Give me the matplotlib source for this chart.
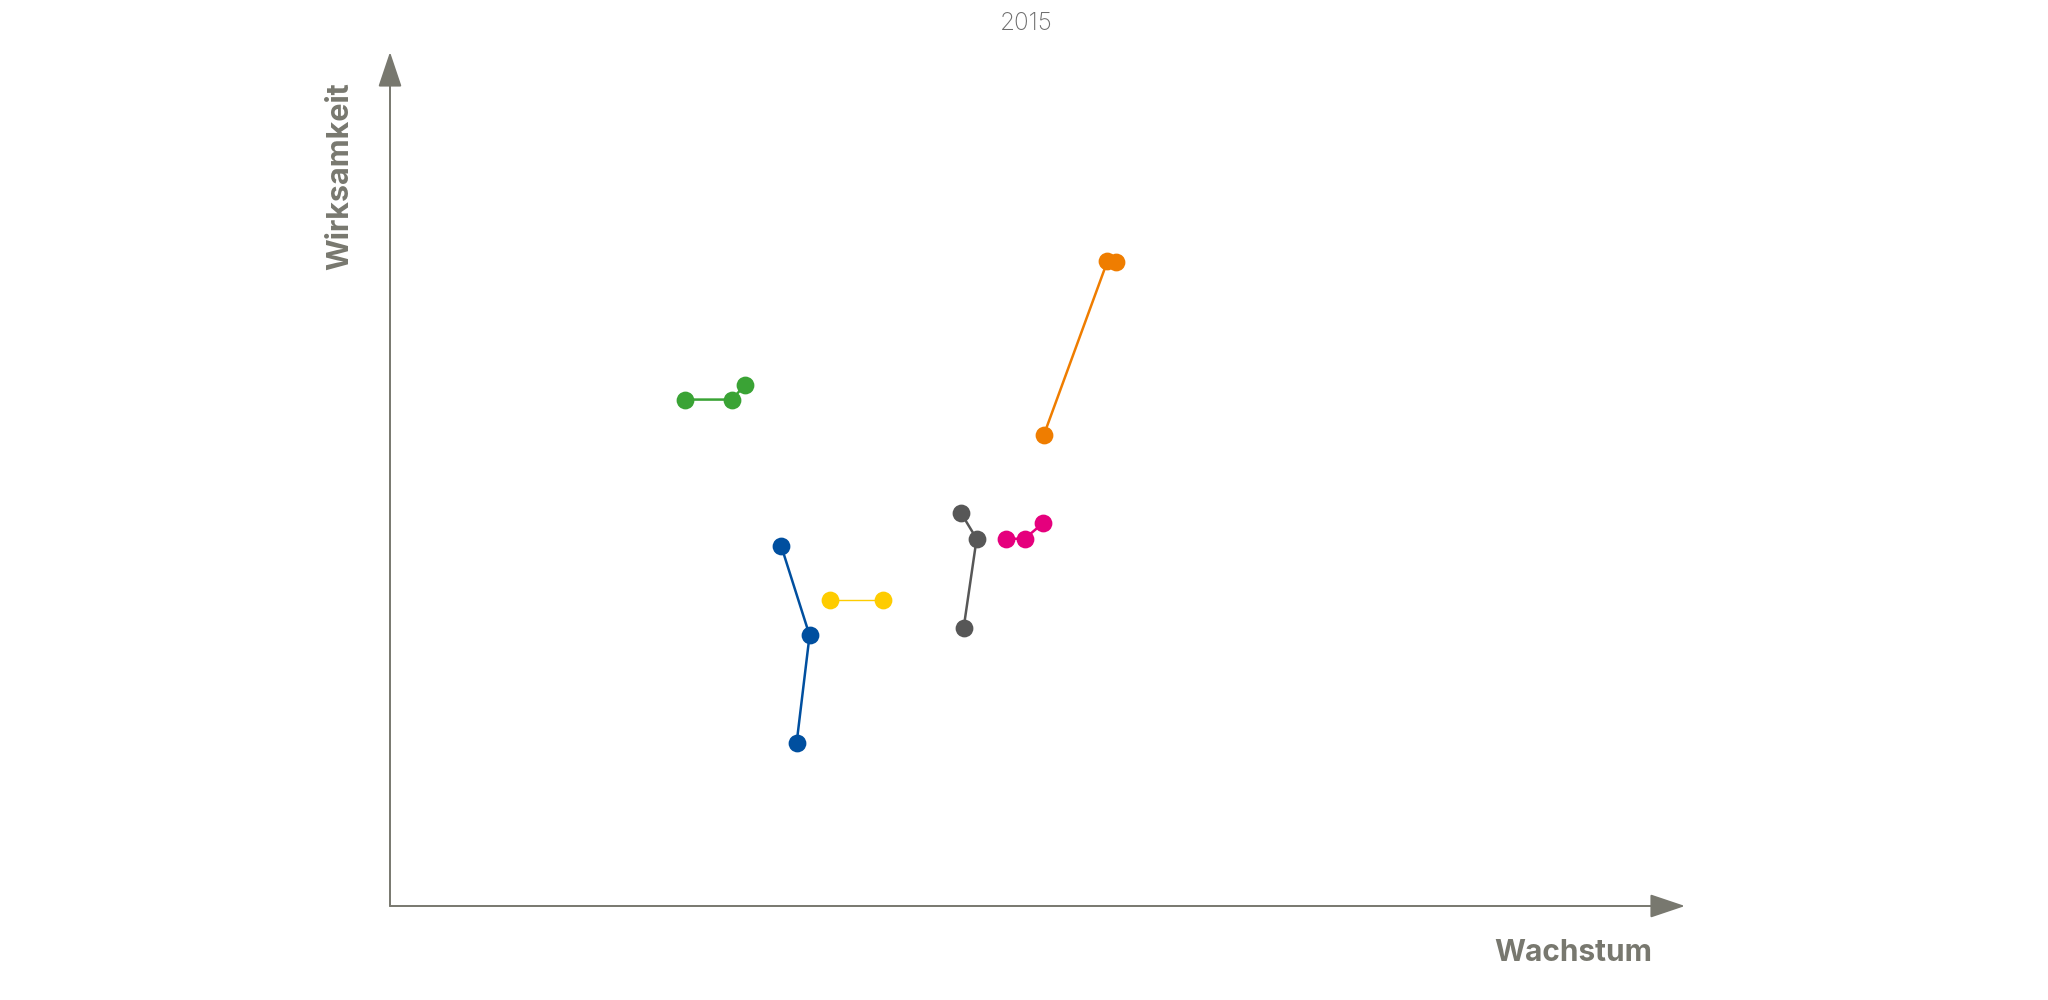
import matplotlib
matplotlib.use("Agg")
import matplotlib.pyplot as plt

plt.rcParams['font.family'] = ['Inter', 'DejaVu Sans']

# Data (Wachstum on x, Wirksamkeit on y), each series is a connected trajectory
green_x = [22.8, 26.4, 27.4]
green_y = [59.3, 59.3, 61.0]
orange_x = [50.5, 55.4, 56.1]
orange_y = [55.2, 75.5, 75.4]
gray_x = [44.1, 45.3, 44.3]
gray_y = [46.0, 43.0, 32.6]
magenta_x = [47.6, 49.0, 50.4]
magenta_y = [43.0, 43.0, 44.8]
blue_x = [30.2, 32.4, 31.4]
blue_y = [42.2, 31.7, 19.1]
yellow_x = [34.0, 38.1]
yellow_y = [35.8, 35.8]

series = [
    (green_x, green_y, '#3aa335', 1.8),
    (orange_x, orange_y, '#ef7d00', 1.8),
    (gray_x, gray_y, '#575757', 1.8),
    (magenta_x, magenta_y, '#e5007d', 1.8),
    (blue_x, blue_y, '#004f9f', 1.8),
    (yellow_x, yellow_y, '#fecc00', 1.0),
]

title = "2015"
xlabel = "Wachstum"
ylabel = "Wirksamkeit"
axis_color = '#78786f'

fig = plt.figure(figsize=(20.48, 10.0), dpi=100)
ax = fig.add_axes([390/2048, 94/1000, (1685-390)/2048, (906-52)/1000])
ax.set_xlim(0, 100)
ax.set_ylim(0, 100)
for s in ax.spines.values():
    s.set_visible(False)
ax.set_xticks([])
ax.set_yticks([])

for xs, ys, c, lw in series:
    ax.plot(xs, ys, color=c, lw=lw, marker='o', markersize=12.8, markeredgewidth=0,
            solid_capstyle='round', zorder=3)

arrow_style = '-|>,head_length=1.1,head_width=0.37'
ax.annotate('', xy=(1, 0), xytext=(0, 0), xycoords='axes fraction', textcoords='axes fraction',
            arrowprops=dict(arrowstyle=arrow_style, mutation_scale=20, color=axis_color,
                            lw=1.4, shrinkA=0, shrinkB=0))
ax.annotate('', xy=(0, 1), xytext=(0, 0), xycoords='axes fraction', textcoords='axes fraction',
            arrowprops=dict(arrowstyle=arrow_style, mutation_scale=20, color=axis_color,
                            lw=1.4, shrinkA=0, shrinkB=0))

fig.text(1026/2048, 1 - 23/1000, title, ha='center', va='center', fontsize=17.5,
         color='#6e6e6e', fontweight='light')
fig.text(1652/2048, 1 - 953/1000, xlabel, ha='right', va='center', fontsize=21.5,
         color=axis_color, fontweight='bold')
fig.text(340/2048, 1 - 82/1000, ylabel, ha='center', va='top', rotation=90, fontsize=22,
         color=axis_color, fontweight='bold')

fig.savefig('out.png', dpi=100, facecolor='white')
